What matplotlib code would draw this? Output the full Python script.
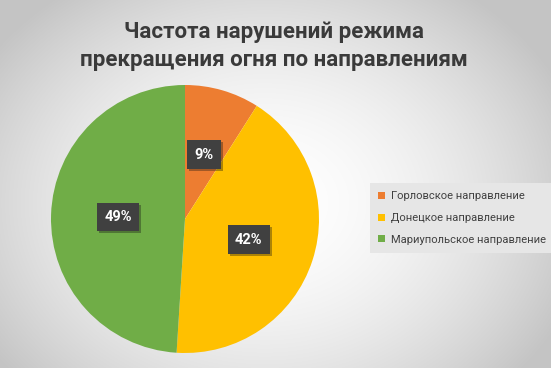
import numpy as np
import matplotlib
matplotlib.use('agg')
import matplotlib.pyplot as plt
from matplotlib import patheffects

plt.rcParams['font.family'] = ['Roboto', 'DejaVu Sans']

title = 'Частота нарушений режима\nпрекращения огня по направлениям'
labels = ['Горловское направление', 'Донецкое направление', 'Мариупольское направление']
values = [9, 42, 49]
colors = ['#ED7D31', '#FFC000', '#70AD47']

W, H = 551, 368
fig = plt.figure(figsize=(W / 100, H / 100), dpi=100)

# radial gradient background
bg = fig.add_axes([0, 0, 1, 1], zorder=-10)
yy, xx = np.mgrid[0:H, 0:W]
d = np.sqrt(((xx - W * 0.48) / (W * 0.6)) ** 2 + ((yy - H * 0.55) / (H * 0.72)) ** 2)
shade = 1.0 - 0.23 * np.clip(d, 0, 1) ** 1.8
bg.imshow(np.dstack([shade] * 3), aspect='auto', extent=[0, 1, 0, 1])
bg.set_axis_off()

fig.text(0.497, 0.875, title, ha='center', va='center', fontsize=16,
         fontweight='bold', color='#3a3a3a', linespacing=1.4)

# pie axes: centre (185, 219), radius 134 px
ax = fig.add_axes([51 / W, (H - 353) / H, 268 / W, 268 / H])
wedges, texts, autotexts = ax.pie(
    values, colors=colors, startangle=90, counterclock=False,
    autopct='%1.0f%%', pctdistance=0.5, radius=1.0,
    textprops=dict(color='white', fontsize=10.5, fontweight='bold'))
for t in autotexts:
    t.set_bbox(dict(boxstyle='square,pad=0.5', facecolor='#404040', edgecolor='none'))
    t.get_bbox_patch().set_path_effects(
        [patheffects.SimplePatchShadow(offset=(1.5, -1.5), alpha=0.35), patheffects.Normal()])
ax.set_xlim(-1, 1)
ax.set_ylim(-1, 1)
ax.set_aspect('equal')

leg = fig.legend(wedges, labels, loc='upper left',
                 bbox_to_anchor=(370 / W, 1 - 183 / H), frameon=True,
                 fontsize=8, handlelength=0.6, handleheight=0.6,
                 handletextpad=0.5, labelspacing=1.05, borderpad=0.75,
                 borderaxespad=0, labelcolor='#404040')
leg.get_frame().set_facecolor('#e6e6e6')
leg.get_frame().set_edgecolor('none')
leg.get_frame().set_alpha(1)
leg.get_frame().set_boxstyle('square', pad=0)
for h in leg.legend_handles:
    h.set_edgecolor('none')

fig.savefig('out.png', dpi=100)
